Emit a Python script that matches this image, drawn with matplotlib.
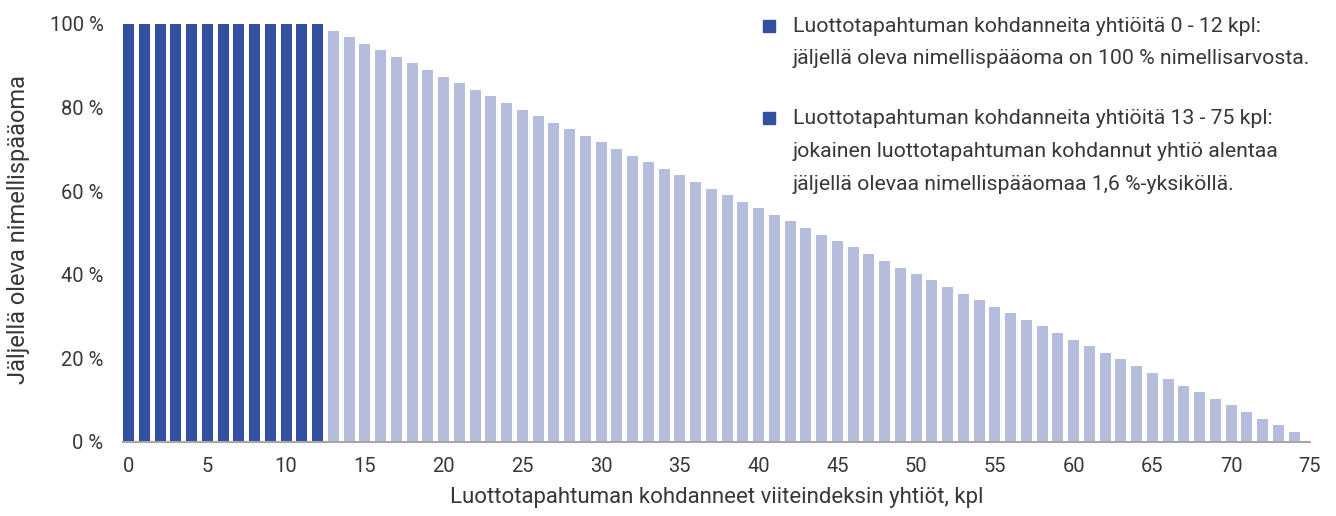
import matplotlib.pyplot as plt
from matplotlib.lines import Line2D

plt.rcParams['font.family'] = ['Roboto', 'DejaVu Sans']

# companies hit by a credit event and remaining principal (%)
companies = list(range(0, 76))
full_principal = [100.0] * 13  # 0 - 12
reduced_principal = [98.4, 96.9, 95.3, 93.7, 92.1, 90.6, 89.0, 87.4, 85.8, 84.3,
                     82.7, 81.1, 79.5, 78.0, 76.4, 74.8, 73.2, 71.7, 70.1, 68.5,
                     66.9, 65.4, 63.8, 62.2, 60.6, 59.1, 57.5, 55.9, 54.3, 52.8,
                     51.2, 49.6, 48.0, 46.5, 44.9, 43.3, 41.7, 40.2, 38.6, 37.0,
                     35.4, 33.9, 32.3, 30.7, 29.1, 27.6, 26.0, 24.4, 22.8, 21.3,
                     19.7, 18.1, 16.5, 15.0, 13.4, 11.8, 10.2, 8.7, 7.1, 5.5,
                     3.9, 2.4, 0.0]  # 13 - 75

x_ticks = list(range(0, 76, 5))
y_ticks = [0, 20, 40, 60, 80, 100]

legend_lines = [
    ['Luottotapahtuman kohdanneita yhtiöitä 0 - 12 kpl:',
     'jäljellä oleva nimellispääoma on 100 % nimellisarvosta.'],
    ['Luottotapahtuman kohdanneita yhtiöitä 13 - 75 kpl:',
     'jokainen luottotapahtuman kohdannut yhtiö alentaa',
     'jäljellä olevaa nimellispääomaa 1,6 %-yksiköllä.'],
]

dark = '#3350A0'
light = '#B4BEDC'
text_col = '#383838'

fig = plt.figure(figsize=(13.36, 5.16), dpi=100)
ax = fig.add_axes([0.0921, 0.144, 0.8884, 0.8095])

ax.bar(companies[:13], full_principal, width=0.7, color=dark)
ax.bar(companies[13:], reduced_principal, width=0.7, color=light)

ax.set_xlim(-0.35, 74.9)
ax.set_ylim(0, 100)
ax.set_xticks(x_ticks)
ax.set_xticklabels([str(t) for t in x_ticks])
ax.set_yticks(y_ticks)
ax.set_yticklabels([f'{t} %' for t in y_ticks])
ax.tick_params(axis='x', length=0, pad=11, labelsize=14.5, labelcolor=text_col)
ax.tick_params(axis='y', length=0, pad=14, labelsize=14.5, labelcolor=text_col)

for side in ['top', 'right', 'left']:
    ax.spines[side].set_visible(False)
ax.spines['bottom'].set_color('#A6A6A6')
ax.spines['bottom'].set_linewidth(1.5)

W, H = 1336, 516
fig.text(717 / W, 1 - 498 / H, 'Luottotapahtuman kohdanneet viiteindeksin yhtiöt, kpl',
         fontsize=16, color=text_col, ha='center', va='center')
fig.text(19 / W, 1 - 229 / H, 'Jäljellä oleva nimellispääoma', fontsize=17,
         color=text_col, ha='center', va='center', rotation=90)

# legend drawn by hand so the marker sits at the first line
y0 = 26
step = 33
for block in legend_lines:
    fig.add_artist(Line2D([769 / W], [1 - y0 / H], marker='s', markersize=8,
                          color=dark, linestyle='', transform=fig.transFigure))
    for j, line in enumerate(block):
        fig.text(793 / W, 1 - (y0 + j * step) / H, line, fontsize=15.3,
                 color=text_col, va='center', ha='left')
    y0 += step * len(block) + 26

fig.savefig('out.png', dpi=100)
